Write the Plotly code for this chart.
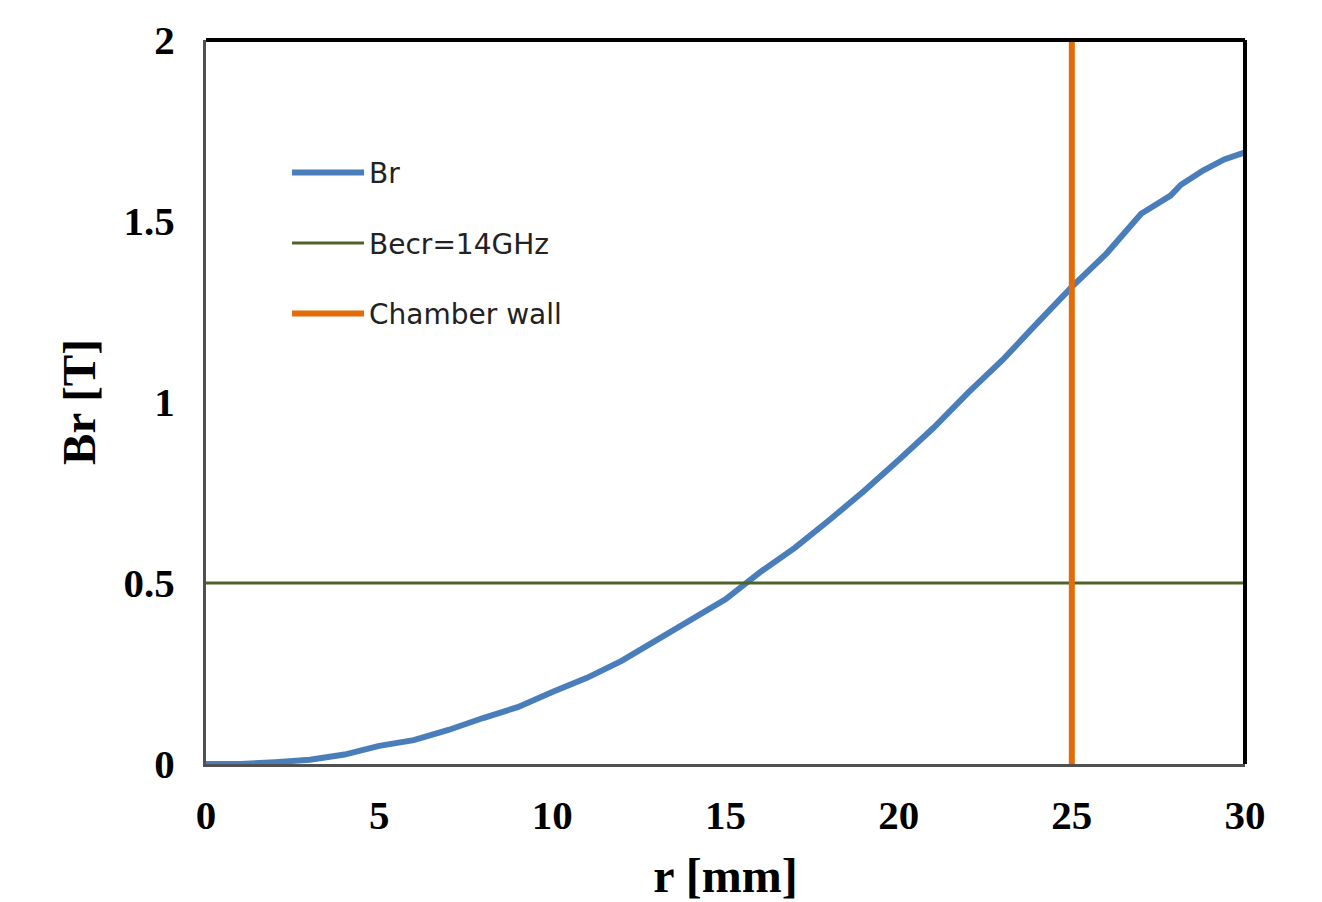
import plotly.graph_objects as go

# Data
r_mm = [0, 1, 2, 3, 4, 5, 6, 7, 8, 9, 10, 11, 12, 13, 14, 15, 16, 17, 18, 19, 20,
        21, 22, 23, 24, 25, 26, 27, 27.85, 28.15, 28.8, 29.4, 30]
br_T = [0, 0, 0.005, 0.012, 0.026, 0.05, 0.066, 0.094, 0.127, 0.157, 0.199, 0.238,
        0.285, 0.343, 0.398, 0.455, 0.53, 0.597, 0.674, 0.754, 0.84, 0.928, 1.025,
        1.116, 1.218, 1.318, 1.41, 1.52, 1.57, 1.60, 1.64, 1.67, 1.69]
becr_r = [0, 30]
becr_val = [0.5, 0.5]
wall_r = [25, 25]
wall_val = [0, 2]

x_ticks = [0, 5, 10, 15, 20, 25, 30]
y_ticks = [0, 0.5, 1, 1.5, 2]
y_tick_text = ["0", "0.5", "1", "1.5", "2"]

fig = go.Figure()
fig.add_trace(go.Scatter(x=r_mm, y=br_T, mode="lines", name="Br",
                         line=dict(color="#4a7ebb", width=6), legendgroup="a"))
fig.add_trace(go.Scatter(x=becr_r, y=becr_val, mode="lines", name="Becr=14GHz",
                         line=dict(color="#4f6228", width=3), legendgroup="b"))
fig.add_trace(go.Scatter(x=wall_r, y=wall_val, mode="lines", name="Chamber wall",
                         line=dict(color="#e36c09", width=6), legendgroup="c"))

serif = "Liberation Serif"
fig.update_layout(
    width=1314, height=894,
    margin=dict(l=198, r=77, t=32, b=138, autoexpand=False),
    paper_bgcolor="white", plot_bgcolor="white",
    showlegend=True,
    legend=dict(x=0.078, y=0.851, xanchor="left", yanchor="top",
                font=dict(family="DejaVu Sans", size=28, color="#222"),
                bgcolor="rgba(0,0,0,0)", tracegroupgap=31, itemwidth=72),
    xaxis=dict(range=[0, 30], tickvals=x_ticks, showgrid=False, zeroline=False,
               automargin=False,
               showline=True, linecolor="#505050", linewidth=3, ticks="",
               ticklabelstandoff=13,
               tickfont=dict(family=serif, size=41, color="black", weight="bold"),
               title=dict(text="r [mm]", font=dict(family=serif, size=48, color="black", weight="bold"),
                          standoff=26)),
    yaxis=dict(range=[0, 2], tickvals=y_ticks, ticktext=y_tick_text, showgrid=False,
               automargin=False,
               zeroline=False, showline=True, linecolor="#505050", linewidth=3, ticks="",
               ticklabelstandoff=20,
               tickfont=dict(family=serif, size=41, color="black", weight="bold"),
               title=dict(text="Br [T]", font=dict(family=serif, size=47, color="black", weight="bold"),
                          standoff=14)),
)
# top and right black frame lines
fig.add_shape(type="line", xref="paper", yref="paper", x0=0, x1=1, y0=1, y1=1,
              line=dict(color="black", width=4))
fig.add_shape(type="line", xref="paper", yref="paper", x0=1, x1=1, y0=0, y1=1,
              line=dict(color="black", width=4))

fig.write_html("out.html")
